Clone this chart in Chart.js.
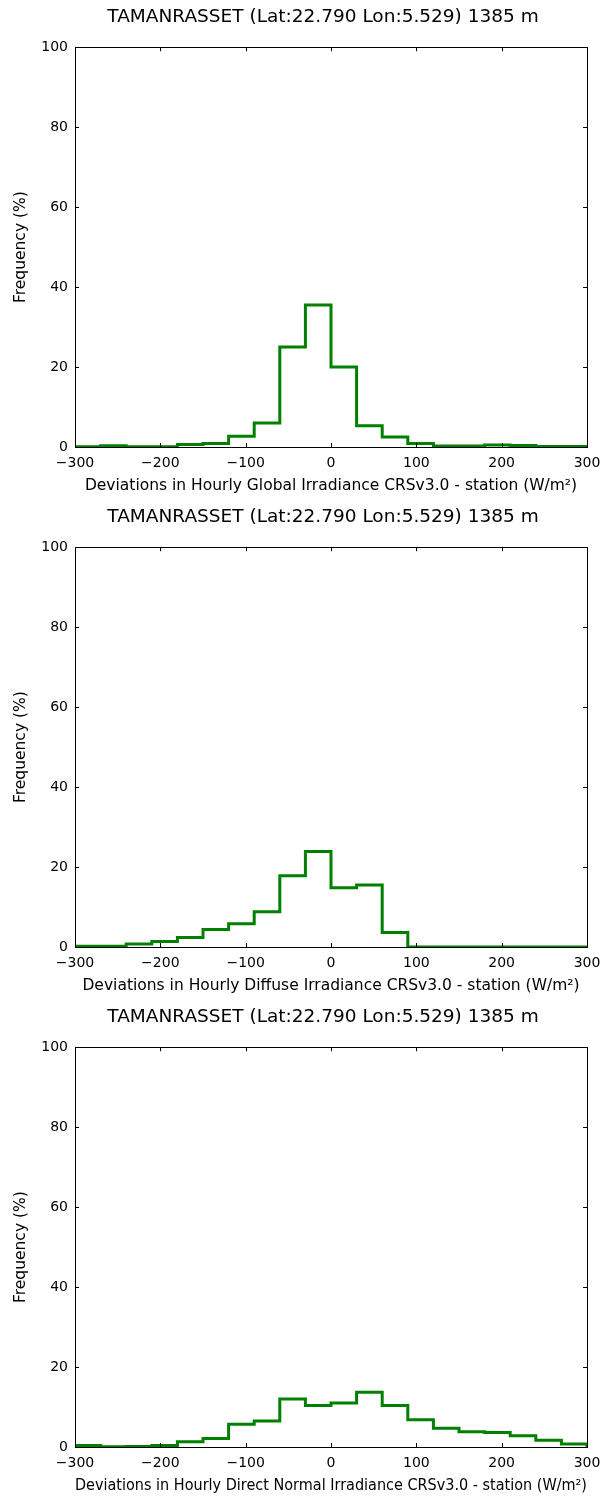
<!DOCTYPE html>
<html>
<head>
<meta charset="utf-8">
<script src="https://cdn.jsdelivr.net/npm/chart.js@4.4.1/dist/chart.umd.min.js"></script>
<style>
  html, body { margin: 0; padding: 0; background: #fff; }
  .panel { position: relative; width: 613px; height: 500px; }
</style>
</head>
<body>
<div class="panel"><canvas id="globalChart"></canvas></div>
<div class="panel"><canvas id="diffuseChart"></canvas></div>
<div class="panel"><canvas id="directChart"></canvas></div>
<script>
// bin edges of the histograms (W/m2)
const binEdges = [-300, -270, -240, -210, -180, -150, -120, -90, -60, -30, 0,
                  30, 60, 90, 120, 150, 180, 210, 240, 270, 300];

// frequency (%) per bin
const globalFreq = [0.05, 0.3, 0.05, 0.05, 0.6, 0.85, 2.7, 6.0, 25.0, 35.5,
                    20.0, 5.3, 2.5, 0.85, 0.25, 0.25, 0.5, 0.35, 0.1, 0.1];
const diffuseFreq = [0.2, 0.2, 0.75, 1.35, 2.35, 4.4, 5.8, 8.8, 17.8, 23.9,
                     14.8, 15.5, 3.6, 0, 0, 0, 0, 0, 0, 0];
const directFreq = [0.35, 0.05, 0.1, 0.35, 1.3, 2.1, 5.7, 6.5, 12.0, 10.4,
                    11.0, 13.7, 10.4, 6.8, 4.7, 3.8, 3.6, 2.8, 1.7, 0.75];

const xTicks = [-300, -200, -100, 0, 100, 200, 300];
const yTicks = [0, 20, 40, 60, 80, 100];

const titleText = 'TAMANRASSET (Lat:22.790 Lon:5.529) 1385 m';
const fontFamily = '"DejaVu Sans", sans-serif';

// step outline like matplotlib histtype='step'
function stepPoints(freq) {
    const pts = [{x: binEdges[0], y: 0}];
    freq.forEach((v, i) => pts.push({x: binEdges[i], y: v}));
    pts.push({x: binEdges[binEdges.length - 1], y: freq[freq.length - 1]});
    pts.push({x: binEdges[binEdges.length - 1], y: 0});
    return pts;
}

// box around the axes and inward tick marks on all four sides
const frameTicks = {
    id: 'frameTicks',
    afterLayout(chart) {
        // centre the title a little left of the axes centre, as in the source
        const t = chart.titleBlock;
        if (t) { t.left = 23; t.right = 623; }
    },
    afterDraw(chart) {
        const {ctx, chartArea: a, scales: {x, y}} = chart;
        const len = 4;
        ctx.save();
        ctx.strokeStyle = '#000';
        ctx.lineWidth = 1;
        ctx.beginPath();
        x.ticks.forEach(t => {
            const px = Math.round(x.getPixelForValue(t.value)) + 0.5;
            ctx.moveTo(px, a.bottom); ctx.lineTo(px, a.bottom - len);
            ctx.moveTo(px, a.top); ctx.lineTo(px, a.top + len);
        });
        y.ticks.forEach(t => {
            const py = Math.round(y.getPixelForValue(t.value)) + 0.5;
            ctx.moveTo(a.left, py); ctx.lineTo(a.left + len, py);
            ctx.moveTo(a.right, py); ctx.lineTo(a.right - len, py);
        });
        ctx.stroke();
        ctx.strokeRect(Math.round(a.left) + 0.5, Math.round(a.top) + 0.5,
                       Math.round(a.right - a.left), Math.round(a.bottom - a.top));
        ctx.restore();
    }
};

function makeChart(id, freq, xLabel) {
    const ctx = document.getElementById(id).getContext('2d');
    return new Chart(ctx, {
        type: 'line',
        data: {
            datasets: [{
                data: stepPoints(freq),
                stepped: 'before',
                borderColor: '#008000',
                borderWidth: 3,
                pointRadius: 0,
                fill: false
            }]
        },
        options: {
            responsive: true,
            maintainAspectRatio: false,
            animation: false,
            layout: {padding: {left: 0, right: 26, top: 0, bottom: 0}},
            plugins: {
                legend: {display: false},
                tooltip: {enabled: false},
                title: {
                    display: true,
                    text: titleText,
                    color: '#000',
                    font: {family: fontFamily, size: 18.5, weight: 'normal'},
                    padding: {top: 6, bottom: 19}
                }
            },
            scales: {
                x: {
                    type: 'linear',
                    min: -300,
                    max: 300,
                    afterBuildTicks: s => { s.ticks = xTicks.map(v => ({value: v})); },
                    afterFit: s => { s.height = 53; },
                    grid: {display: false, drawTicks: false},
                    border: {display: false},
                    ticks: {
                        color: '#000',
                        padding: 8,
                        maxRotation: 0,
                        font: {family: fontFamily, size: 14},
                        callback: v => String(v).replace('-', '\u2212')
                    },
                    title: {
                        display: true,
                        text: xLabel,
                        color: '#000',
                        font: {family: fontFamily, size: 15.5},
                        padding: {top: 0, bottom: 5}
                    }
                },
                y: {
                    min: 0,
                    max: 100,
                    afterBuildTicks: s => { s.ticks = yTicks.map(v => ({value: v})); },
                    afterFit: s => { s.width = 75; },
                    grid: {display: false, drawTicks: false},
                    border: {display: false},
                    ticks: {
                        color: '#000',
                        padding: 7,
                        font: {family: fontFamily, size: 14}
                    },
                    title: {
                        display: true,
                        text: 'Frequency (%)',
                        color: '#000',
                        font: {family: fontFamily, size: 15.5},
                        padding: {top: 12, bottom: 0}
                    }
                }
            }
        },
        plugins: [frameTicks]
    });
}

makeChart('globalChart', globalFreq,
    'Deviations in Hourly Global Irradiance CRSv3.0 - station (W/m\u00b2)');
makeChart('diffuseChart', diffuseFreq,
    'Deviations in Hourly Diffuse Irradiance CRSv3.0 - station (W/m\u00b2)');
makeChart('directChart', directFreq,
    'Deviations in Hourly Direct Normal Irradiance CRSv3.0 - station (W/m\u00b2)');
</script>
</body>
</html>
